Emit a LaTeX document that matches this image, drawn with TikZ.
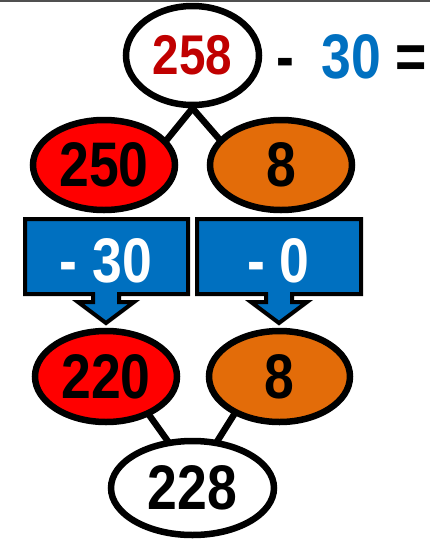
\documentclass[tikz,border=0pt]{standalone}
\usepackage{fontspec}
\setmainfont{Liberation Sans}[FakeStretch=0.85]
\usetikzlibrary{shapes.geometric}
\pgfdeclarelayer{background}
\pgfsetlayers{background,main}
\definecolor{darkred}{HTML}{C00000}
\definecolor{boxblue}{HTML}{0070C0}
\definecolor{fillred}{HTML}{FF0000}
\definecolor{fillorange}{HTML}{E36C09}
\definecolor{topgray}{HTML}{505050}
\tikzset{
  bubble/.style={ellipse, draw=black, line width=6.5pt, inner sep=0pt,
    font=\fontsize{63}{63}\selectfont\bfseries},
  conn/.style={draw=black, line width=6.5pt, shorten <=-4pt, shorten >=-4pt},
  callout/.style={draw=black, fill=boxblue, line width=4pt, line join=miter},
  calltext/.style={anchor=base, inner sep=0pt, text=white,
    font=\fontsize{63}{63}\selectfont\bfseries},
  eqtext/.style={anchor=base, inner sep=0pt,
    font=\fontsize{63}{63}\selectfont\bfseries}
}
\begin{document}
\begin{tikzpicture}[x=1pt,y=-1pt]
\useasboundingbox (0,0) rectangle (430,539);
\begin{pgfonlayer}{background}
\fill[white] (0,0) rectangle (430,539);
\end{pgfonlayer}
\draw[topgray, line width=1.5pt] (0,0.75) -- (430,0.75);

% ellipses
\node[bubble, fill=white, minimum width=133pt, minimum height=99pt,
  font=\fontsize{56}{56}\selectfont\bfseries, text=darkred] (top) at (192.5,55.5) {258};
\node[bubble, fill=fillred, minimum width=142pt, minimum height=90pt] (a) at (104,165) {250};
\node[bubble, fill=fillorange, minimum width=142pt, minimum height=90pt] (b) at (281,165) {8};
\node[bubble, fill=fillred, minimum width=142pt, minimum height=91pt] (c) at (106,376.5) {220};
\node[bubble, fill=fillorange, minimum width=141pt, minimum height=91pt] (d) at (279.5,376.5) {8};
\node[bubble, fill=white, minimum width=163pt, minimum height=94pt] (e) at (192.5,488) {228};

% equation text
\node[eqtext] (minus) at (285.5,78) {-};
\node[eqtext, text=boxblue] (thirty) at (351.5,78) {30};
\node[eqtext] (equals) at (411.5,78) {=};

% connectors
\begin{pgfonlayer}{background}
\draw[conn] (top.south) -- (a.22);
\draw[conn] (top.south) -- (b.157);
\draw[conn] (c.-42) -- (e.118);
\draw[conn] (d.-140) -- (e.62);
\end{pgfonlayer}

% callouts
\draw[callout] (25,219) -- (188,219) -- (188,294) -- (119,294) -- (119,302)
  -- (134,302) -- (106,323) -- (78,302) -- (93,302) -- (93,294) -- (25,294) -- cycle;
\draw[callout] (197,219) -- (361,219) -- (361,294) -- (292,294) -- (292,302)
  -- (307,302) -- (279,323) -- (251,302) -- (266,302) -- (266,294) -- (197,294) -- cycle;
\node[calltext] (m30) at (106,282) {- 30};
\node[calltext] (m0) at (278.5,282) {- 0};
\end{tikzpicture}
\end{document}
